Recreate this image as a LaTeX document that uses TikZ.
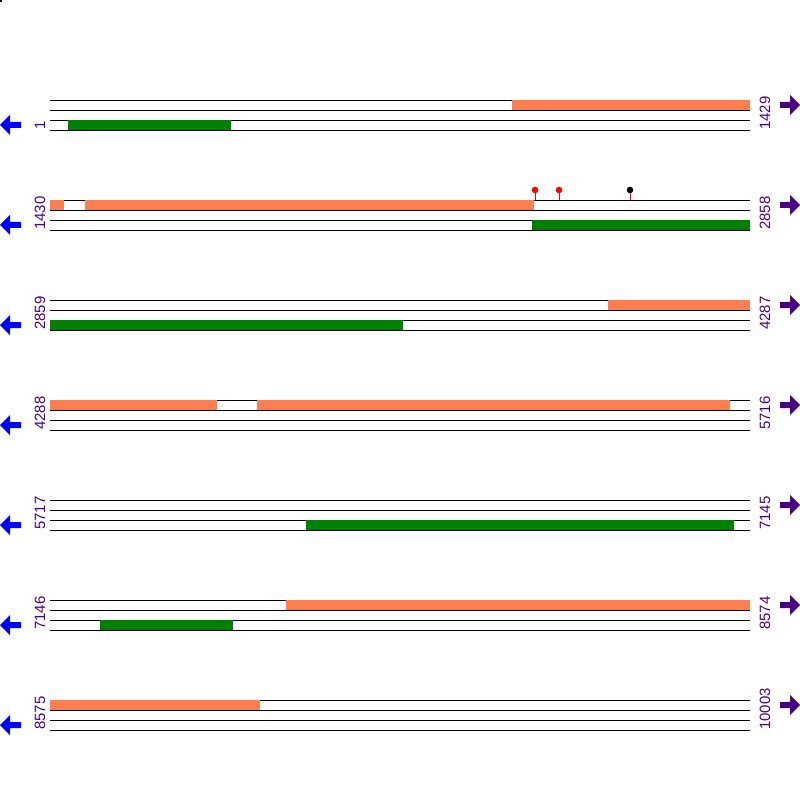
\documentclass[tikz,border=0pt]{standalone}
\usepackage{fontspec}
\setmainfont{Liberation Sans}
\usepackage{xcolor}
\usepackage{tikz}
\definecolor{coral}{RGB}{255,127,80}
\definecolor{darkgreen}{RGB}{0,128,0}
\definecolor{indigo}{RGB}{75,0,130}
\tikzset{
  strand/.style={line width=0.5pt,black},
  fwd/.style={fill=coral,draw=none},
  rev/.style={fill=darkgreen,draw=none},
  coordlabel/.style={rotate=90,anchor=west,inner sep=0pt,text=indigo,font=\fontsize{8.5}{9}\selectfont},
  sitestem/.style={line width=0.5pt,red},
}
\begin{document}
\begin{tikzpicture}[x=0.02cm,y=-0.02cm]
    \useasboundingbox (0,0) rectangle (800,800);
    \fill[black] (0,0) rectangle (2,2);
    % the four strands, the arrows and the positions of each row
    \foreach \r/\a/\b in {0/1/1429,1/1430/2858,2/2859/4287,3/4288/5716,4/5717/7145,5/7146/8574,6/8575/10003}{
      \pgfmathsetmacro{\y}{100+100*\r}
      \foreach \d in {0,10,20,30}
        \draw[strand] (50,\y+\d) -- (750,\y+\d);
      \node[coordlabel] (left\r) at (40,\y+30) {\a};
      \node[coordlabel] (right\r) at (765,\y+30) {\b};
      \fill[blue] (0,\y+25) -- (10,\y+15) -- (10,\y+22) -- (21,\y+22) -- (21,\y+28) -- (10,\y+28) -- (10,\y+35) -- cycle;
      \fill[indigo] (800,\y+5) -- (790,\y-5) -- (790,\y+2) -- (780,\y+2) -- (780,\y+8) -- (790,\y+8) -- (790,\y+15) -- cycle;
    }
    % row 1
    \fill[fwd] (512,100) rectangle (750,110);
    \fill[rev] (68,120) rectangle (231,130);
    % row 2
    \fill[fwd] (50,200) rectangle (64,210);
    \fill[fwd] (85,200) rectangle (534,210);
    \fill[rev] (532,220) rectangle (750,230);
    \draw[sitestem] (535,190) -- (535,200);
    \draw[sitestem] (559,190) -- (559,200);
    \draw[sitestem] (630,190) -- (630,200);
    \fill[red] (535,190) circle (3.3);
    \fill[red] (559,190) circle (3.3);
    \fill[black] (630,190) circle (3.3);
    % row 3
    \fill[fwd] (608,300) rectangle (750,310);
    \fill[rev] (50,320) rectangle (403,330);
    % row 4
    \fill[fwd] (50,400) rectangle (217,410);
    \fill[fwd] (257,400) rectangle (730,410);
    % row 5
    \fill[rev] (306,520) rectangle (734,530);
    % row 6
    \fill[fwd] (286,600) rectangle (750,610);
    \fill[rev] (100,620) rectangle (233,630);
    % row 7
    \fill[fwd] (50,700) rectangle (260,710);
  \end{tikzpicture}
\end{document}
